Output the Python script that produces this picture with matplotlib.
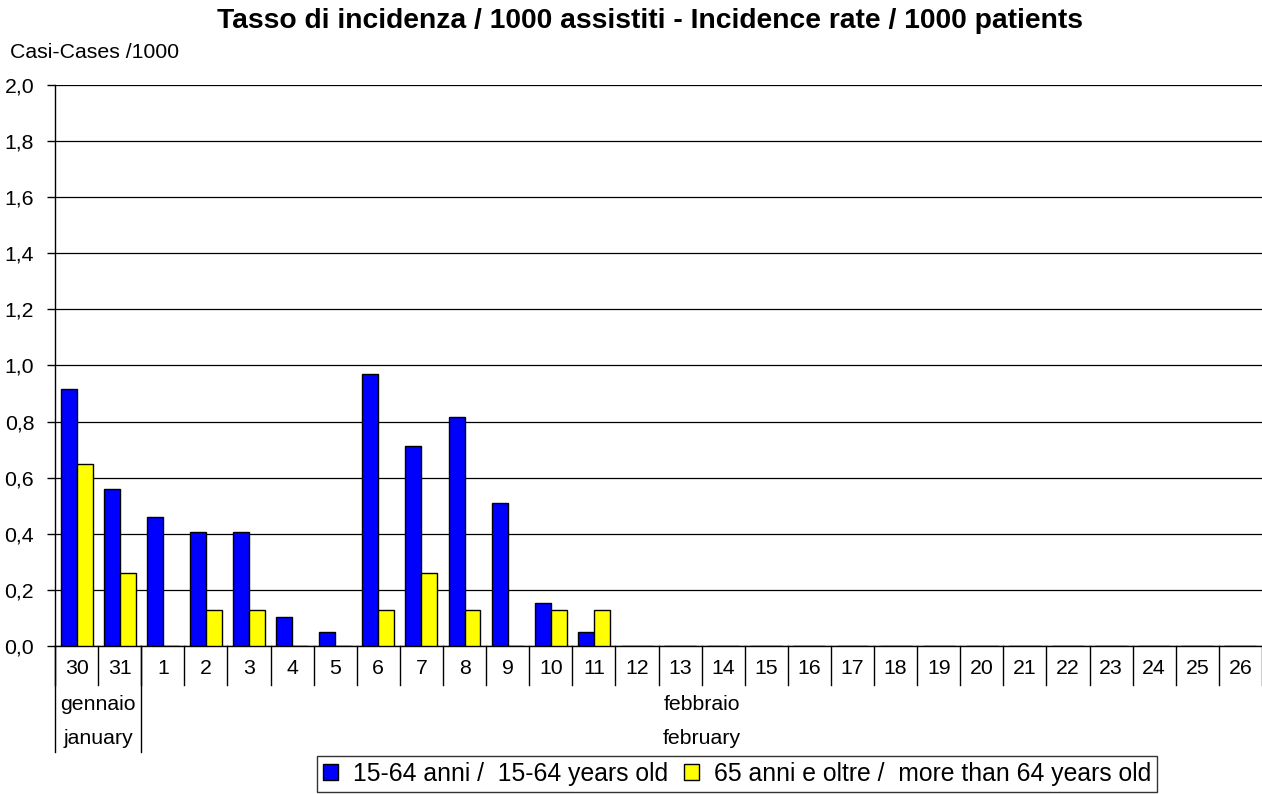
import numpy as np
import matplotlib
matplotlib.use("Agg")
import matplotlib.pyplot as plt
from matplotlib.patches import Patch
from matplotlib.ticker import FuncFormatter

plt.rcParams['font.family'] = ['Liberation Sans', 'DejaVu Sans']

# data
days = ['30', '31'] + [str(d) for d in range(1, 27)]
young = [0.917, 0.561, 0.459, 0.407, 0.407, 0.102, 0.051, 0.968, 0.712, 0.815,
         0.510, 0.153, 0.051] + [0] * 15
old = [0.650, 0.260, 0, 0.130, 0.130, 0, 0, 0.130, 0.260, 0.130,
       0, 0.130, 0.130] + [0] * 15
months = [('gennaio', 'january', 0, 1), ('febbraio', 'february', 2, 27)]
series_names = ['15-64 anni /  15-64 years old', '65 anni e oltre /  more than 64 years old']
colors = ['#0000FF', '#FFFF00']

W, H = 1262, 794
fs = 15.3
fig = plt.figure(figsize=(W / 100, H / 100), dpi=100)
ax = fig.add_axes([55 / W, (H - 646) / H, 1207 / W, (646 - 85) / H])

x = np.arange(len(days))
bw = 0.37
ax.bar(x - bw / 2, young, bw, color=colors[0], edgecolor='black', linewidth=1, zorder=3)
ax.bar(x + bw / 2, old, bw, color=colors[1], edgecolor='black', linewidth=1, zorder=3)

ax.set_xlim(-0.5, len(days) - 0.5)
ax.set_ylim(0, 2.0)
ax.set_yticks(np.arange(0, 2.01, 0.2))
ax.yaxis.set_major_formatter(FuncFormatter(lambda v, p: f'{v:.1f}'.replace('.', ',')))
ax.tick_params(axis='y', direction='out', length=6, width=1, labelsize=fs, pad=9)
ax.set_xticks([])
ax.grid(axis='y', color='black', linewidth=0.9, zorder=0)
for s in ['top', 'right']:
    ax.spines[s].set_visible(False)
ax.spines['left'].set_linewidth(1)
ax.spines['bottom'].set_linewidth(1)

# category axis with separators and month rows
axh = 646 - 85
def ya(px):
    return -px / axh

trans = ax.get_xaxis_transform()
for k in range(len(days) + 1):
    ax.plot([k - 0.5, k - 0.5], [0, ya(39)], color='black', lw=1, transform=trans, clip_on=False)
for i, d in enumerate(days):
    ax.text(i, ya(22), d, ha='center', va='center', fontsize=fs, transform=trans)
for it, en, a, b in months:
    c = (a + b) / 2
    ax.text(c, ya(58), it, ha='center', va='center', fontsize=fs, transform=trans)
    ax.text(c, ya(93), en, ha='center', va='center', fontsize=fs, transform=trans)
ax.plot([-0.5, -0.5], [0, ya(106)], color='black', lw=1, transform=trans, clip_on=False)
ax.plot([1.5, 1.5], [0, ya(106)], color='black', lw=1, transform=trans, clip_on=False)

fig.text(650 / W, 1 - 21 / H, 'Tasso di incidenza / 1000 assistiti - Incidence rate / 1000 patients',
         ha='center', va='center', fontsize=20.3, fontweight='bold')
fig.text(10 / W, 1 - 52 / H, 'Casi-Cases /1000', ha='left', va='center', fontsize=fs)

handles = [Patch(facecolor=c, edgecolor='black', linewidth=1) for c in colors]
leg = fig.legend(handles, series_names, ncol=2, loc='lower left',
                 bbox_to_anchor=(317 / W, 2 / H), fontsize=17.8, frameon=True,
                 fancybox=False, edgecolor='black', handlelength=0.6, handleheight=0.6,
                 handletextpad=0.6, columnspacing=0.65, borderpad=0.25, borderaxespad=0)
leg.get_frame().set_linewidth(1)

fig.savefig('out.png', dpi=100)
